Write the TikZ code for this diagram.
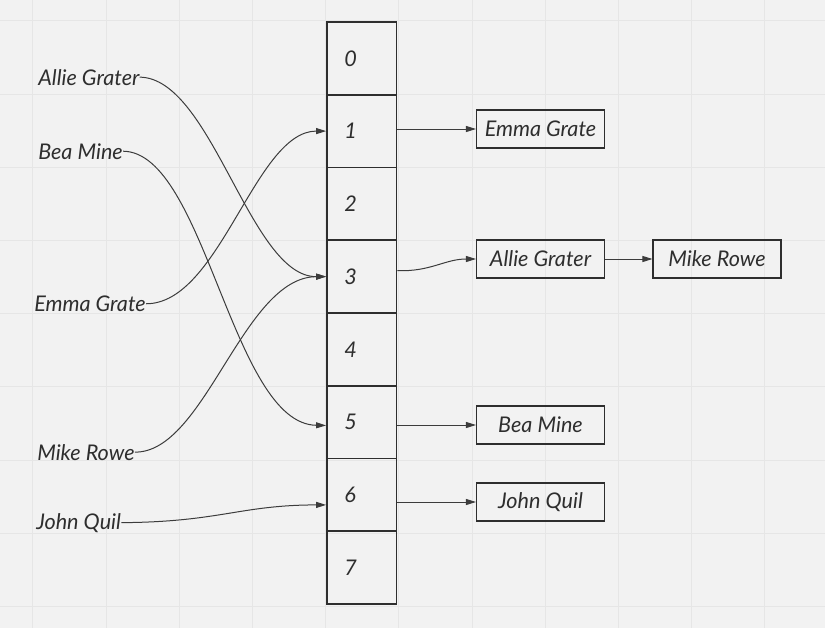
\documentclass[tikz,border=0pt]{standalone}
\usepackage{fontspec}
\setmainfont{Lato}
\usetikzlibrary{arrows.meta}
\definecolor{bgc}{HTML}{F2F2F2}
\definecolor{gridc}{HTML}{E6E6E6}
\definecolor{ink}{HTML}{2E2E2E}
\definecolor{wire}{HTML}{3C3C3C}
\begin{document}
\begin{tikzpicture}[x=0.75pt,y=-0.75pt,
  hand/.style={font=\itshape\fontsize{16.2}{19}\selectfont, text=ink},
  cell/.style={draw=ink, line width=1.3pt, minimum width=52.1pt, minimum height=54.6pt,
    inner sep=0pt, text width=26pt, align=left, hand},
  itembox/.style={draw=ink, line width=1.1pt, minimum width=95.7pt, minimum height=28.7pt,
    inner sep=0pt, hand},
  namelbl/.style={anchor=base west, inner sep=0pt, hand},
  wirec/.style={draw=wire, line width=0.75pt, -{Triangle[length=7.5pt,width=4.5pt]}}
]
% background and grid
\fill[bgc] (0,0) rectangle (825,628);
\useasboundingbox (0,0) rectangle (825,628);
\foreach \i in {0,...,10} {
  \draw[gridc, line width=0.6pt] ({32.7+73.2*\i},0) -- ({32.7+73.2*\i},628);
}
\foreach \j in {0,...,8} {
  \draw[gridc, line width=0.6pt] (0,{20.7+73.2*\j}) -- (825,{20.7+73.2*\j});
}

% array cells
\node[cell] (c0) at (361.7,58.4) {0};
\node[cell] (c1) at (361.7,131.1) {1};
\node[cell] (c2) at (361.7,203.9) {2};
\node[cell] (c3) at (361.7,276.6) {3};
\node[cell] (c4) at (361.7,349.4) {4};
\node[cell] (c5) at (361.7,422.1) {5};
\node[cell] (c6) at (361.7,494.9) {6};
\node[cell] (c7) at (361.7,567.6) {7};

% right boxes
\node[itembox] (emma) at (540.5,129) {Emma Grate};
\node[itembox] (allie) at (540.5,259) {Allie Grater};
\node[itembox] (mike) at (717,259) {Mike Rowe};
\node[itembox] (bea) at (540.5,425) {Bea Mine};
\node[itembox] (john) at (540.5,502) {John Quil};

% left labels
\node[namelbl] (lallie) at (38,85) {Allie Grater};
\node[namelbl] (lbea) at (38,159) {Bea Mine};
\node[namelbl] (lemma) at (34,311.5) {Emma Grate};
\node[namelbl] (lmike) at (37,460) {Mike Rowe};
\node[namelbl] (ljohn) at (36,529) {John Quil};

% left curves into the array
\draw[wirec] (lallie.east) .. controls (212,78) and (250,277) .. (c3.west);
\draw[wirec] (lbea.east) .. controls (205,152) and (232,424) .. ([yshift=-2.5pt]c5.west);
\draw[wirec] (lemma.east) .. controls (220,304) and (255,131) .. (c1.west);
\draw[wirec] (lmike.east) .. controls (205,453) and (243,277) .. (c3.west);
\draw[wirec] (ljohn.east) .. controls (220,522) and (240,505) .. ([yshift=-7.5pt]c6.west);

% array to boxes
\draw[wirec] (c1.east |- emma.west) -- (emma.west);
\draw[wirec] ([yshift=4.5pt]c3.east) .. controls (430,272) and (445,259) .. (allie.west);
\draw[wirec] (allie.east) -- (mike.west);
\draw[wirec] (c5.east |- bea.west) -- (bea.west);
\draw[wirec] (c6.east |- john.west) -- (john.west);
\end{tikzpicture}
\end{document}
